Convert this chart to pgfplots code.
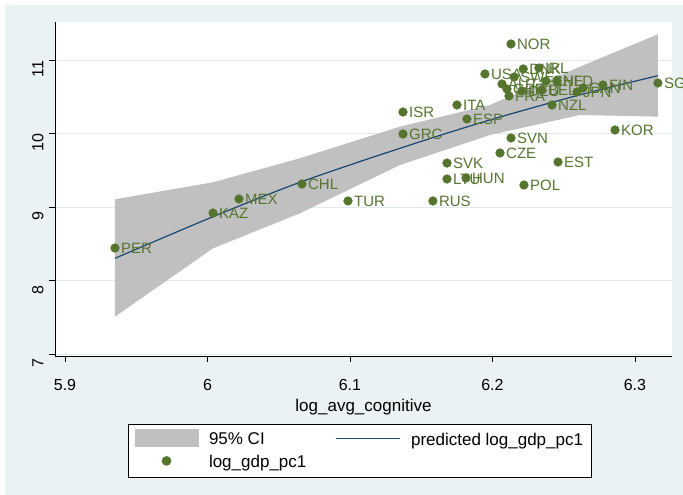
\documentclass[border=0pt]{standalone}
\usepackage{fontspec}
\setmainfont{Liberation Sans}
\usepackage{pgfplots}
\pgfplotsset{compat=1.18}
\definecolor{bgc}{RGB}{234,242,243}
\definecolor{gridc}{RGB}{222,234,237}
\definecolor{bandc}{RGB}{192,192,192}
\definecolor{navyc}{RGB}{26,71,111}
\definecolor{greenc}{RGB}{85,117,47}

\pgfplotstableread{
x y lab
5.9351 8.446 PER
6.0039 8.922 KAZ
6.0221 9.113 MEX
6.0663 9.317 CHL
6.0986 9.086 TUR
6.1582 9.086 RUS
6.1681 9.385 LTU
6.1814 9.399 HUN
6.1681 9.602 SVK
6.2053 9.739 CZE
6.2130 9.943 SVN
6.2460 9.616 EST
6.2221 9.303 POL
6.2860 10.052 KOR
6.3161 10.691 SGP
6.1372 10.296 ISR
6.1372 9.997 GRC
6.1751 10.392 ITA
6.1821 10.201 ESP
6.2418 10.392 NZL
6.2130 11.222 NOR
6.1947 10.814 USA
6.2153 10.773 SWE
6.2216 10.882 DNK
6.2326 10.895 IRL
6.2375 10.718 CHE
6.2453 10.718 NLD
6.2067 10.678 AUT
6.2102 10.609 GBR
6.2116 10.514 FRA
6.2207 10.582 DEU
6.2347 10.596 BEL
6.2593 10.569 JPN
6.2635 10.623 CAN
6.2775 10.664 FIN
}\scatterdata

\begin{document}
\fontsize{16bp}{19bp}\selectfont
\begin{tikzpicture}[x=1bp,y=1bp]
\useasboundingbox (0,0) rectangle (683,495);
\fill[white] (0,0) rectangle (683,495);
\fill[bgc] (5,0) rectangle (683,490);
\begin{axis}[
  at={(55bp,139bp)}, anchor=south west,
  scale only axis, width=617bp, height=334bp,
  xmin=5.893, xmax=6.326, ymin=6.977, ymax=11.521,
  clip=false,
  axis x line*=bottom, axis y line*=left,
  axis line style={black, line width=0.8bp, -},
  axis background/.style={fill=white},
  xtick={5.9,6,6.1,6.2,6.3}, ytick={7,8,9,10,11},
  xticklabels={5.9,6,6.1,6.2,6.3}, yticklabels={7,8,9,10,11},
  tick align=outside, major tick length=6bp,
  tick style={black, line width=0.8bp},
  ymajorgrids, grid style={gridc, line width=1bp},
  /pgf/number format/assume math mode=true,
  ticklabel style={font=\fontsize{16bp}{19bp}\selectfont},
  xticklabel style={yshift=-12bp},
  yticklabel style={rotate=90, anchor=south, xshift=-9bp},
  xlabel={log\_avg\_cognitive},
  xlabel style={font=\fontsize{17bp}{20bp}\selectfont, yshift=3bp},
  legend columns=2,
  legend style={at={(axis description cs:0.494,-0.203)}, anchor=north,
    draw=black, line width=0.8bp, fill=white, inner xsep=6bp, inner ysep=5bp,
    font=\fontsize{17bp}{20bp}\selectfont, row sep=4bp,
    /tikz/every odd column/.append style={column sep=8.5bp},
    /tikz/every even column/.append style={column sep=27bp},
    cells={anchor=west}},
]
\addplot[fill=bandc, draw=none,
  legend image code/.code={\fill[bandc] (0bp,-7bp) rectangle (64bp,11bp);}]
  coordinates {
  (5.9351,9.109) (6.0039,9.340) (6.0649,9.667) (6.1351,10.097)
  (6.1982,10.392) (6.2614,10.913) (6.3161,11.354)
  (6.3161,10.233) (6.2614,10.256) (6.1982,9.984) (6.1351,9.576)
  (6.0649,8.918) (6.0039,8.442) (5.9351,7.512)
  } -- cycle;
\addlegendentry{95\% CI}
\addplot[navyc, line width=1.2bp, smooth, no marks,
  legend image code/.code={\draw[navyc, line width=1.2bp] (0bp,2bp)--(64bp,2bp);}]
  coordinates {
  (5.9351,8.306) (6.0039,8.872) (6.0649,9.340) (6.1351,9.803)
  (6.1982,10.188) (6.2614,10.530) (6.3161,10.790)
  };
\addlegendentry{predicted log\_gdp\_pc1\hspace{9bp}}
\addplot[only marks, mark=*, mark size=4.4bp,
  mark options={solid, fill=greenc, draw=greenc, line width=0.3bp},
  nodes near coords, point meta=explicit symbolic,
  every node near coord/.append style={anchor=west, inner sep=0pt, xshift=6bp,
    text=greenc, text height=0.72em, text depth=0pt,
    font=\fontsize{15bp}{18bp}\selectfont},
  legend image code/.code={\fill[greenc] (32bp,2bp) circle (4.4bp);}]
  table[x=x, y=y, meta=lab] {\scatterdata};
\addlegendentry{log\_gdp\_pc1}
\end{axis}
\end{tikzpicture}
\end{document}
